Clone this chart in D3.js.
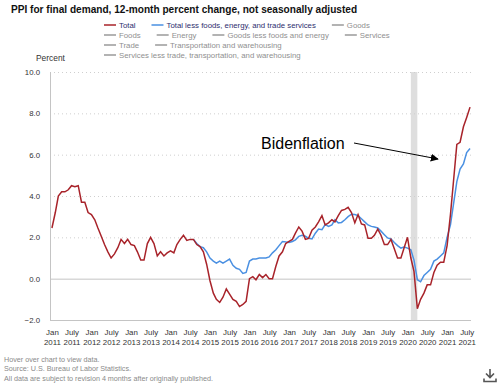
<!DOCTYPE html>
<html>
<head>
<meta charset="utf-8">
<script src="https://cdnjs.cloudflare.com/ajax/libs/d3/7.8.5/d3.min.js"></script>
<style>
body{margin:0;background:#fff;}
svg text{font-family:'Liberation Sans',Arial,sans-serif;}
</style>
</head>
<body>
<div id="chart"></div>
<script>
// 12-month percent change, monthly from Jan 2011
var totalValues = [
    2.45, 3.2, 4.0, 4.2, 4.2, 4.3, 4.5, 4.45, 4.5, 3.7, 3.7, 3.2,
    3.1, 2.85, 2.45, 2.05, 1.65, 1.3, 1.0, 1.2, 1.5, 1.9, 1.7, 1.9,
    1.65, 1.6, 1.3, 0.9, 0.9, 1.7, 2.0, 1.7, 1.1, 1.3, 1.1, 1.25,
    1.35, 1.25, 1.65, 1.9, 2.1, 1.85, 1.9, 1.9, 1.65, 1.55, 1.3, 0.7,
    -0.1, -0.7, -1.0, -1.15, -0.9, -0.5, -0.75, -1.0, -1.1, -1.35, -1.25, -1.1,
    0.0, 0.1, -0.05, 0.2, 0.05, 0.2, 0.0, 0.0, 0.6, 1.1, 1.3, 1.7,
    1.8, 1.9, 2.2, 2.5, 2.3, 1.9, 1.95, 2.35, 2.5, 2.75, 3.05, 2.6,
    2.7, 2.85, 2.75, 3.05, 3.3, 3.35, 3.45, 3.2, 2.7, 3.1, 2.65, 2.6,
    1.95, 1.95, 2.1, 2.4, 2.1, 1.65, 1.65, 1.9, 1.45, 1.0, 1.0, 1.5,
    2.0, 1.0, 0.35, -1.45, -1.0, -0.7, -0.3, -0.3, 0.3, 0.65, 0.8, 0.8,
    1.6, 3.1, 4.7, 6.5, 6.6, 7.35, 7.8, 8.3
];
// less foods, energy and trade services, monthly from Aug 2014
var coreValues = [
    1.9, 1.7, 1.55, 1.5, 1.3,
    1.0, 0.85, 0.75, 0.85, 0.75, 0.85, 0.95, 0.65, 0.5, 0.45, 0.25, 0.3,
    0.85, 0.95, 0.95, 1.0, 1.0, 1.0, 1.05, 1.25, 1.4, 1.6, 1.8, 1.78,
    1.75, 1.8, 1.88, 2.05, 2.1, 2.05, 1.95, 1.92, 2.2, 2.4, 2.37, 2.62,
    2.53, 2.6, 2.85, 2.7, 2.72, 2.85, 3.0, 3.12, 3.1, 3.05, 2.9, 2.75,
    2.6, 2.53, 2.5, 2.45, 2.3, 2.13, 1.97, 1.92, 1.75, 1.6, 1.48, 1.53,
    1.48, 1.4, 0.9, -0.05, -0.15, 0.15, 0.3, 0.45, 0.85, 0.95, 1.1, 1.25,
    2.0, 2.6, 3.6, 4.7, 5.3, 5.55, 6.1, 6.3
];
var totalStart = new Date(2011, 0, 1);
var coreStart = new Date(2014, 7, 1);
var recession = [new Date(2020, 1, 1), new Date(2020, 3, 1)];
var yTicks = [-2, 0, 2, 4, 6, 8, 10];
var monthNames = ["Jan", "July"];
var legendRows = [
    ["Total", "Total less foods, energy, and trade services", "Goods"],
    ["Foods", "Energy", "Goods less foods and energy", "Services"],
    ["Trade", "Transportation and warehousing"],
    ["Services less trade, transportation, and warehousing"]
];
var footNotes = [
    "Hover over chart to view data.",
    "Source: U.S. Bureau of Labor Statistics.",
    "All data are subject to revision 4 months after originally published."
];

var width = 503, height = 385;
var red = "#a8232a", blue = "#4a90e2", gray = "#9a9a9a";

var svg = d3.select("#chart")
    .append("svg")
    .attr("width", width)
    .attr("height", height);

svg.append("text")
    .attr("x", 11)
    .attr("y", 13)
    .attr("font-size", "10.1px")
    .attr("font-weight", "bold")
    .attr("fill", "#111")
    .text("PPI for final demand, 12-month percent change, not seasonally adjusted");

// legend, flowing left to right
legendRows.forEach(function(row, r){
    var lx = 104, ly = 25 + r * 10;
    row.forEach(function(name){
        var col = gray, tcol = "#8f8f8f";
        if(name == "Total"){ col = red; tcol = "#2e2e6e" }
        if(name.indexOf("Total less") == 0){ col = blue; tcol = "#2e2e6e" }
        svg.append("line")
            .attr("x1", lx).attr("x2", lx + 12)
            .attr("y1", ly).attr("y2", ly)
            .attr("stroke", col)
            .attr("stroke-width", 1.5);
        var t = svg.append("text")
            .attr("x", lx + 15)
            .attr("y", ly + 3)
            .attr("font-size", "7.8px")
            .attr("fill", tcol)
            .text(name);
        lx = lx + 15 + t.node().getComputedTextLength() + 16;
    });
});

svg.append("text")
    .attr("x", 36)
    .attr("y", 61)
    .attr("font-size", "8.4px")
    .attr("fill", "#333")
    .text("Percent");

var x = d3.scaleTime()
    .domain([new Date(2010, 11, 14), new Date(2021, 7, 10)])
    .range([50, 471]);

var y = d3.scaleLinear()
    .domain([-2, 10])
    .range([320, 72]);

// shaded recession
svg.append("rect")
    .attr("x", x(recession[0]))
    .attr("y", y(10))
    .attr("width", x(recession[1]) - x(recession[0]))
    .attr("height", y(-2) - y(10))
    .attr("fill", "#dedede");

// grid
svg.append("g")
    .selectAll("line")
    .data(yTicks)
    .enter()
    .append("line")
    .attr("x1", 50).attr("x2", 471)
    .attr("y1", function(d){ return y(d) + 0.5 })
    .attr("y2", function(d){ return y(d) + 0.5 })
    .attr("stroke", function(d){ return d <= 0 ? "#c4c4c4" : "#cfcfcf" })
    .attr("stroke-width", 1)
    .attr("stroke-dasharray", function(d){ return d <= 0 ? null : "1,3" });

svg.append("line")
    .attr("x1", 50.5).attr("x2", 50.5)
    .attr("y1", y(10)).attr("y2", y(-2) + 0.5)
    .attr("stroke", "#c4c4c4");

var yAxis = svg.append("g")
    .attr("transform", "translate(44,0)")
    .call(d3.axisLeft(y).tickValues(yTicks).tickSize(0).tickFormat(d3.format(".1f")));
yAxis.select(".domain").remove();
yAxis.selectAll("text")
    .attr("font-size", "7.8px")
    .attr("fill", "#333")
    .attr("x", -4);

var xTicks = d3.timeMonth.every(6).range(new Date(2011, 0, 1), new Date(2021, 7, 1));
var xAxis = svg.append("g")
    .attr("transform", "translate(0,327)")
    .call(d3.axisBottom(x).tickValues(xTicks).tickSize(0).tickFormat(""));
xAxis.select(".domain").remove();
xAxis.selectAll(".tick")
    .append("text")
    .attr("fill", "#333")
    .attr("font-size", "7.9px")
    .attr("text-anchor", "middle")
    .each(function(d){
        var t = d3.select(this);
        t.append("tspan").attr("x", 0).attr("y", 8).text(monthNames[d.getMonth() == 0 ? 0 : 1]);
        t.append("tspan").attr("x", 0).attr("y", 18).text(d.getFullYear());
    });

var line = d3.line()
    .x(function(d){ return x(d.date) })
    .y(function(d){ return y(d.value) });

var totalData = totalValues.map(function(v, i){ return {date: d3.timeMonth.offset(totalStart, i), value: v} });
var coreData = coreValues.map(function(v, i){ return {date: d3.timeMonth.offset(coreStart, i), value: v} });

svg.append("path")
    .datum(coreData)
    .attr("d", line)
    .attr("fill", "none")
    .attr("stroke", blue)
    .attr("stroke-width", 1.5);

svg.append("path")
    .datum(totalData)
    .attr("d", line)
    .attr("fill", "none")
    .attr("stroke", red)
    .attr("stroke-width", 1.5);

// annotation
svg.append("defs")
    .append("marker")
    .attr("id", "arrow")
    .attr("viewBox", "0 0 10 10")
    .attr("refX", 9).attr("refY", 5)
    .attr("markerWidth", 8).attr("markerHeight", 8)
    .attr("markerUnits", "userSpaceOnUse")
    .attr("orient", "auto")
    .append("path")
    .attr("d", "M0,0L10,5L0,10z")
    .attr("fill", "#000");

svg.append("text")
    .attr("x", 261)
    .attr("y", 149)
    .attr("font-size", "16px")
    .attr("fill", "#000")
    .text("Bidenflation");

svg.append("line")
    .attr("x1", 354).attr("y1", 143)
    .attr("x2", 438).attr("y2", 159)
    .attr("stroke", "#000")
    .attr("stroke-width", 1)
    .attr("marker-end", "url(#arrow)");

svg.append("g")
    .selectAll("text")
    .data(footNotes)
    .enter()
    .append("text")
    .attr("x", 4)
    .attr("y", function(d, i){ return 362 + i * 9.3 })
    .attr("font-size", "7.2px")
    .attr("fill", "#8a8a8a")
    .text(function(d){ return d });

// download icon
var icon = svg.append("g").attr("fill", "none").attr("stroke", "#555").attr("stroke-width", 1.6);
icon.append("path").attr("d", "M490,369V377M486,373.5L490,377.5L494,373.5");
icon.append("path").attr("d", "M484,378.5V381.5H496V378.5");
</script>
</body>
</html>
